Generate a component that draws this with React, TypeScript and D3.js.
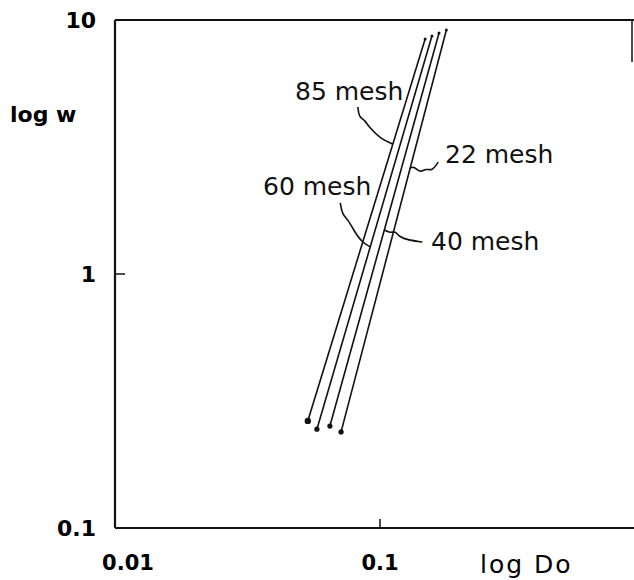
import React, { useRef, useEffect } from "react";
import * as d3 from "d3";

// each mesh size is one straight line on the log-log plot
const meshLabels = ["85 mesh", "60 mesh", "40 mesh", "22 mesh"];
const doLow = [0.0534, 0.0578, 0.0647, 0.0713];
const wLow = [0.264, 0.245, 0.252, 0.239];
const doHigh = [0.148, 0.157, 0.167, 0.178];
const wHigh = [8.42, 8.65, 8.89, 9.13];

const yTicks = [10, 1, 0.1];
const yTickLabels = ["10", "1", "0.1"];
const xTicks = [0.01, 0.1];
const xTickLabels = ["0.01", "0.1"];

// w value where each label's curly leader touches its line
const leaderW = [3.25, 1.28, 1.49, 2.61];

const W = 634;
const H = 580;

const App = () => {
  const svgRef = useRef<SVGSVGElement | null>(null);

  useEffect(() => {
    const svg = d3.select(svgRef.current);
    svg.selectAll("*").remove();

    const x = d3.scaleLog().domain([0.01, 1]).range([115, 645]);
    const y = d3.scaleLog().domain([0.1, 10]).range([528, 20]);

    const font = "'DejaVu Sans', sans-serif";

    // frame
    const frame = svg.append("g").attr("stroke", "#111").attr("fill", "none");
    frame.append("line").attr("x1", x(0.01)).attr("x2", x(0.01)).attr("y1", y(10)).attr("y2", y(0.1)).attr("stroke-width", 2.2);
    frame.append("line").attr("x1", x(0.01)).attr("x2", 634).attr("y1", y(0.1)).attr("y2", y(0.1)).attr("stroke-width", 2.2);
    frame.append("line").attr("x1", x(0.01)).attr("x2", 634).attr("y1", y(10)).attr("y2", y(10)).attr("stroke-width", 2.2);
    frame.append("line").attr("x1", 632).attr("x2", 632).attr("y1", y(10)).attr("y2", y(10) + 42).attr("stroke-width", 1.5);

    // ticks
    frame.append("line").attr("x1", x(0.01)).attr("x2", x(0.01) + 10).attr("y1", y(1)).attr("y2", y(1)).attr("stroke-width", 1.5);
    frame.append("line").attr("x1", x(0.1)).attr("x2", x(0.1)).attr("y1", y(0.1)).attr("y2", y(0.1) - 9).attr("stroke-width", 1.5);

    svg.selectAll(".ytl")
      .data(yTicks)
      .enter()
      .append("text")
      .attr("class", "ytl")
      .attr("x", 96)
      .attr("y", d => y(d) + 8)
      .attr("text-anchor", "end")
      .attr("font-family", font)
      .attr("font-weight", "bold")
      .attr("font-size", 22)
      .text((d, i) => yTickLabels[i]);

    svg.selectAll(".xtl")
      .data(xTicks)
      .enter()
      .append("text")
      .attr("class", "xtl")
      .attr("x", d => x(d) + (d === 0.01 ? 13 : 0))
      .attr("y", 570)
      .attr("text-anchor", "middle")
      .attr("font-family", font)
      .attr("font-weight", "bold")
      .attr("font-size", 21)
      .text((d, i) => xTickLabels[i]);

    svg.append("text")
      .attr("x", 10)
      .attr("y", 122)
      .attr("font-family", font)
      .attr("font-weight", "bold")
      .attr("font-size", 22)
      .text("log w");

    svg.append("text")
      .attr("x", 480)
      .attr("y", 573)
      .attr("font-family", font)
      .attr("font-size", 25)
      .attr("letter-spacing", 2)
      .text("log Do");

    // lines
    const lines = svg.append("g");
    meshLabels.forEach((m, i) => {
      lines.append("line")
        .attr("x1", x(doLow[i])).attr("y1", y(wLow[i]))
        .attr("x2", x(doHigh[i])).attr("y2", y(wHigh[i]))
        .attr("stroke", "#111").attr("stroke-width", 1.6);
      lines.append("circle").attr("cx", x(doLow[i])).attr("cy", y(wLow[i])).attr("r", i === 0 ? 3.2 : 2.6).attr("fill", "#111");
      lines.append("circle").attr("cx", x(doHigh[i])).attr("cy", y(wHigh[i])).attr("r", 1.5).attr("fill", "#111");
    });

    // label positions and curly leaders
    const labelPos = [
      { lx: 295, ly: 100 },
      { lx: 263, ly: 195 },
      { lx: 431, ly: 250 },
      { lx: 445, ly: 163 },
    ];
    const leaderShapes: [number, number][][] = [
      [[-35, -37], [-34, -27], [-28, -24], [-24, -17], [-12, -5], [0, 0]],
      [[-30, -44], [-28, -32], [-22, -27], [-17, -17], [-8, -4], [0, 0]],
      [[38, 12], [24, 10], [15, 7], [11, 1], [6, 3], [0, 0]],
      [[28, -6], [22, 3], [16, 0], [10, 5], [4, -2], [0, 0]],
    ];
    const curve = d3.line<[number, number]>().curve(d3.curveBasis);

    meshLabels.forEach((m, i) => {
      const lw0 = Math.log10(wLow[i]);
      const lw1 = Math.log10(wHigh[i]);
      const t = (Math.log10(leaderW[i]) - lw0) / (lw1 - lw0);
      const ld = Math.log10(doLow[i]) + t * (Math.log10(doHigh[i]) - Math.log10(doLow[i]));
      const tx = x(Math.pow(10, ld));
      const ty = y(leaderW[i]);
      const pts = leaderShapes[i].map(p => [tx + p[0], ty + p[1]] as [number, number]);
      svg.append("path")
        .attr("d", curve(pts))
        .attr("fill", "none")
        .attr("stroke", "#111")
        .attr("stroke-width", 1.6);

      svg.append("text")
        .attr("x", labelPos[i].lx)
        .attr("y", labelPos[i].ly)
        .attr("font-family", font)
        .attr("font-size", 25)
        .attr("fill", "#111")
        .text(m);
    });
  }, []);

  return (
    <div>
      <svg ref={svgRef} width={W} height={H} style={{ position: "absolute", left: 0, top: 0, background: "#fff" }}></svg>
    </div>
  );
};

export default App;
